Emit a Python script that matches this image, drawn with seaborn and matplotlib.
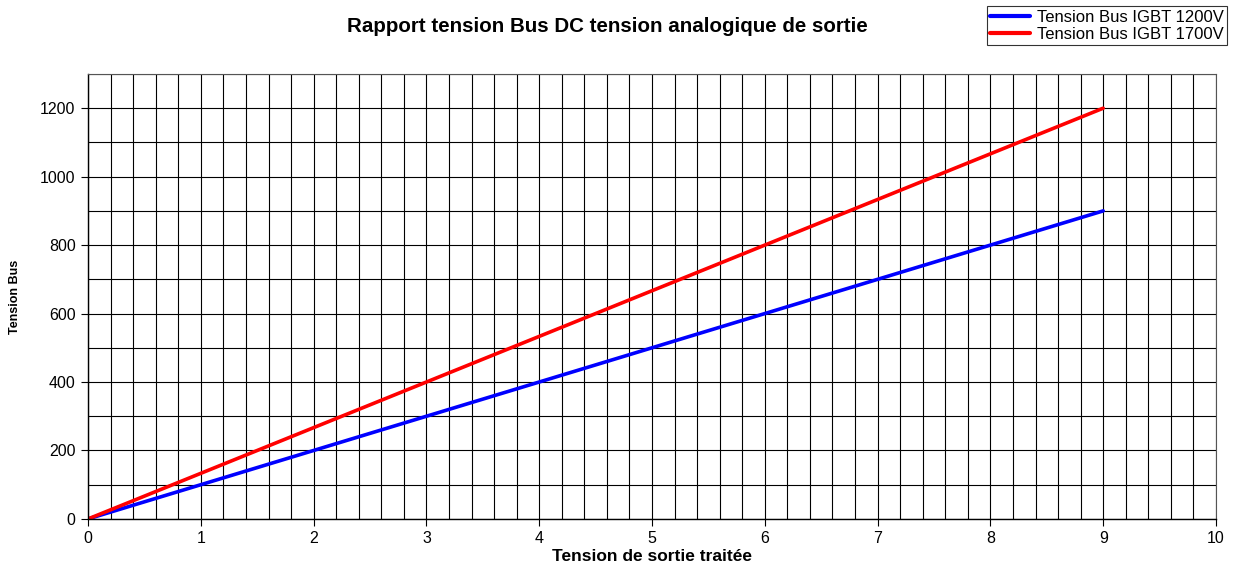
import numpy as np
import pandas as pd
import seaborn as sns
import matplotlib.pyplot as plt
from matplotlib.ticker import MultipleLocator

# valeurs
tension_sortie = [0, 1, 2, 3, 4, 5, 6, 7, 8, 9]
bus_1200 = [0, 100, 200, 300, 400, 500, 600, 700, 800, 900]
bus_1700 = [0, 133.3, 266.7, 400, 533.3, 666.7, 800, 933.3, 1066.7, 1200]
series = ["Tension Bus IGBT 1200V", "Tension Bus IGBT 1700V"]

df = pd.DataFrame({
    "x": tension_sortie * 2,
    "y": bus_1200 + bus_1700,
    "serie": [series[0]] * len(tension_sortie) + [series[1]] * len(tension_sortie),
})

sns.set_style("white")
plt.rcParams['font.family'] = ['Liberation Sans', 'DejaVu Sans']
plt.rcParams['text.color'] = 'black'
plt.rcParams['axes.labelcolor'] = 'black'
plt.rcParams['xtick.color'] = 'black'
plt.rcParams['ytick.color'] = 'black'

fig = plt.figure(figsize=(12.33, 5.69), dpi=100)
ax = fig.add_axes([0.0714, 0.088, 0.9148, 0.782])

sns.lineplot(data=df, x="x", y="y", hue="serie", palette=["#0000ff", "#ff0000"],
             linewidth=2.6, ax=ax, legend=False)

ax.set_xlim(0, 10)
ax.set_ylim(0, 1300)
ax.xaxis.set_major_locator(MultipleLocator(1))
ax.xaxis.set_minor_locator(MultipleLocator(0.2))
ax.yaxis.set_major_locator(MultipleLocator(200))
ax.yaxis.set_minor_locator(MultipleLocator(100))
ax.grid(which="both", color="black", linewidth=0.8)
ax.set_axisbelow(True)
ax.tick_params(which="major", direction="out", length=5, width=0.8, color="black",
               labelcolor="black", labelsize=11.5, bottom=True, left=True, pad=4)
ax.tick_params(which="minor", length=0)
for side in ["left", "bottom"]:
    ax.spines[side].set_color("black")
    ax.spines[side].set_linewidth(1.0)
for side in ["top", "right"]:
    ax.spines[side].set_color("#555555")
    ax.spines[side].set_linewidth(0.8)

ax.set_xlabel("Tension de sortie traitée", fontsize=12.5, fontweight="bold",
              labelpad=2, color="black")
ax.set_ylabel("Tension Bus", fontsize=9, fontweight="bold", labelpad=14, color="black")

fig.text(0.493, 0.953, "Rapport tension Bus DC tension analogique de sortie",
         ha="center", va="center", fontsize=14.8, fontweight="bold", color="black")

handles = [plt.Line2D([], [], color=c, linewidth=3) for c in ["#0000ff", "#ff0000"]]
leg = fig.legend(handles, series, loc="upper right", bbox_to_anchor=(0.998, 0.995),
                 fontsize=12, frameon=True, fancybox=False, borderpad=0.2,
                 handlelength=2.4, handletextpad=0.4, labelspacing=0.15,
                 borderaxespad=0.2, labelcolor="black")
leg.get_frame().set_edgecolor("black")
leg.get_frame().set_linewidth(0.8)

fig.savefig("out.png", dpi=100)
